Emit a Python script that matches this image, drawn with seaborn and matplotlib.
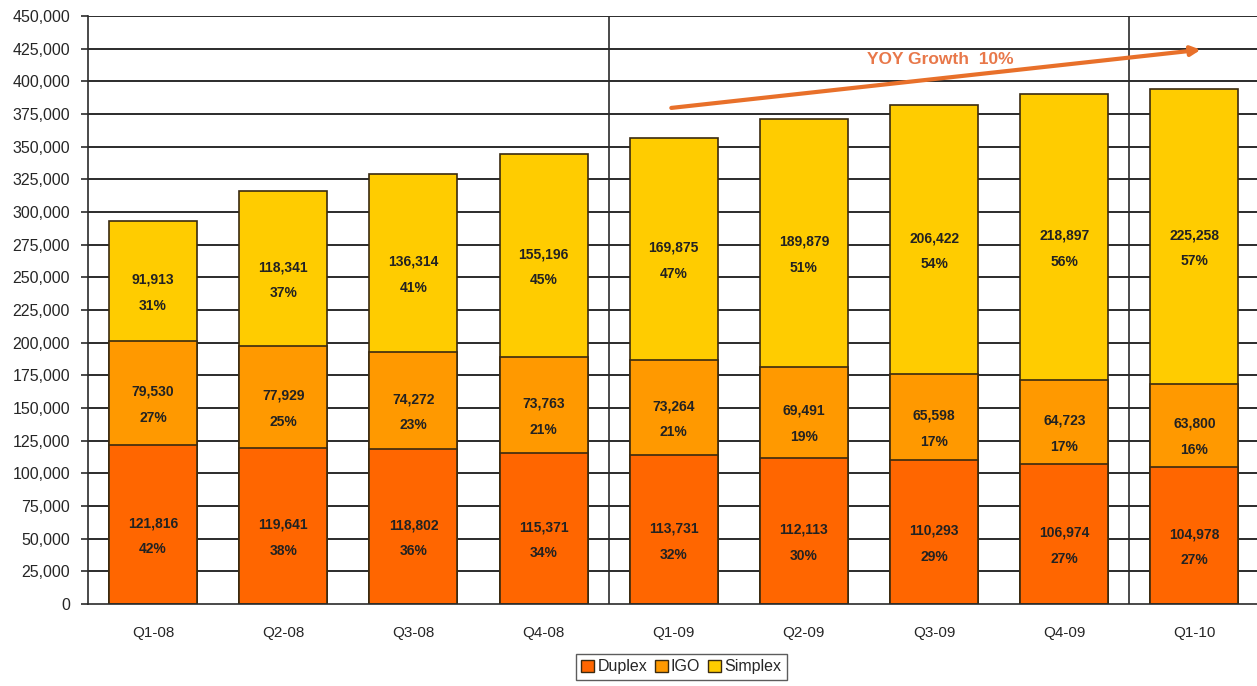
import numpy as np
import pandas as pd
import seaborn as sns
import matplotlib.pyplot as plt

# Quarterly subscriber data
quarters = ["Q1-08", "Q2-08", "Q3-08", "Q4-08", "Q1-09", "Q2-09", "Q3-09", "Q4-09", "Q1-10"]
duplex = [121816, 119641, 118802, 115371, 113731, 112113, 110293, 106974, 104978]
igo = [79530, 77929, 74272, 73763, 73264, 69491, 65598, 64723, 63800]
simplex = [91913, 118341, 136314, 155196, 169875, 189879, 206422, 218897, 225258]
duplex_pct = [42, 38, 36, 34, 32, 30, 29, 27, 27]
igo_pct = [27, 25, 23, 21, 21, 19, 17, 17, 16]
simplex_pct = [31, 37, 41, 45, 47, 51, 54, 56, 57]

colors = {"Duplex": "#FF6600", "IGO": "#FF9900", "Simplex": "#FFCC00"}

sns.set_style("white")
plt.rcParams['font.family'] = ['Liberation Sans', 'DejaVu Sans']

df = pd.DataFrame({"quarter": quarters, "Duplex": duplex, "IGO": igo, "Simplex": simplex})
df["d_top"] = df["Duplex"]
df["i_top"] = df["Duplex"] + df["IGO"]
df["s_top"] = df["i_top"] + df["Simplex"]

fig = plt.figure(figsize=(12.57, 6.86), dpi=100)
ax = fig.add_axes([0.070, 0.1195, 0.932, 0.857])

# horizontal grid behind the bars
for yv in np.arange(25000, 450001, 25000):
    ax.axhline(yv, color="#2b2b2b", lw=1.4, zorder=0)

bw = 88 / 130
# stacked: draw the tallest first, then overlay lower segments
for col, name in [("s_top", "Simplex"), ("i_top", "IGO"), ("d_top", "Duplex")]:
    sns.barplot(data=df, x="quarter", y=col, color=colors[name], width=bw,
                edgecolor="#3a2a10", linewidth=1.2, saturation=1, ax=ax, zorder=2)

# segment labels
for i in range(len(quarters)):
    segs = [(0, duplex[i], duplex_pct[i]),
            (duplex[i], igo[i], igo_pct[i]),
            (duplex[i] + igo[i], simplex[i], simplex_pct[i])]
    for base, val, pct in segs:
        ax.text(i, base + val / 2 - 9000, f"{val:,}\n{pct}%", ha="center", va="center",
                fontsize=10, fontweight="bold", color="#222222", linespacing=2.1, zorder=4)

# year separators
for xv in [3.5, 7.5]:
    ax.axvline(xv, color="#2b2b2b", lw=1.2, zorder=1)

# growth arrow
ax.annotate("", xy=(8.07, 424500), xytext=(3.96, 379500),
            arrowprops=dict(arrowstyle="-|>", color="#E8702A", lw=3, mutation_scale=14), zorder=5)
ax.text(6.05, 416500, "YOY Growth  10%", ha="center", va="center", fontsize=12.5,
        fontweight="bold", color="#E8784A", zorder=5)

ax.set_xlim(-0.5, 8.5)
ax.set_ylim(0, 450000)
ax.set_yticks(np.arange(0, 450001, 25000))
ax.set_yticklabels([f"{v:,}" for v in np.arange(0, 450001, 25000)], fontsize=11.5)
ax.set_xticks(range(len(quarters)))
ax.set_xticklabels(quarters, fontsize=11)
ax.tick_params(axis="x", length=0, pad=16)
ax.set_xticks(np.arange(0.5, 8.5, 1), minor=True)
ax.tick_params(axis="x", which="minor", length=5, width=1.2, color="#2b2b2b", direction="out")
ax.tick_params(axis="y", length=5, width=1.2, color="#2b2b2b", direction="out", left=True, pad=8)
ax.set_xlabel("")
ax.set_ylabel("")
for s in ["top", "right"]:
    ax.spines[s].set_visible(False)
for s in ["left", "bottom"]:
    ax.spines[s].set_color("#2b2b2b")
    ax.spines[s].set_linewidth(1.2)

handles = [plt.Rectangle((0, 0), 1, 1, facecolor=colors[n], edgecolor="#3a2a10", lw=1) for n in ["Duplex", "IGO", "Simplex"]]
fig.legend(handles, ["Duplex", "IGO", "Simplex"], loc="center", bbox_to_anchor=(0.542, 0.028), ncol=3,
           fontsize=11.5, frameon=True, fancybox=False, edgecolor="#333333", handlelength=0.8,
           handleheight=0.8, handletextpad=0.2, columnspacing=0.5, borderpad=0.35)

fig.savefig("out.png", dpi=100)
